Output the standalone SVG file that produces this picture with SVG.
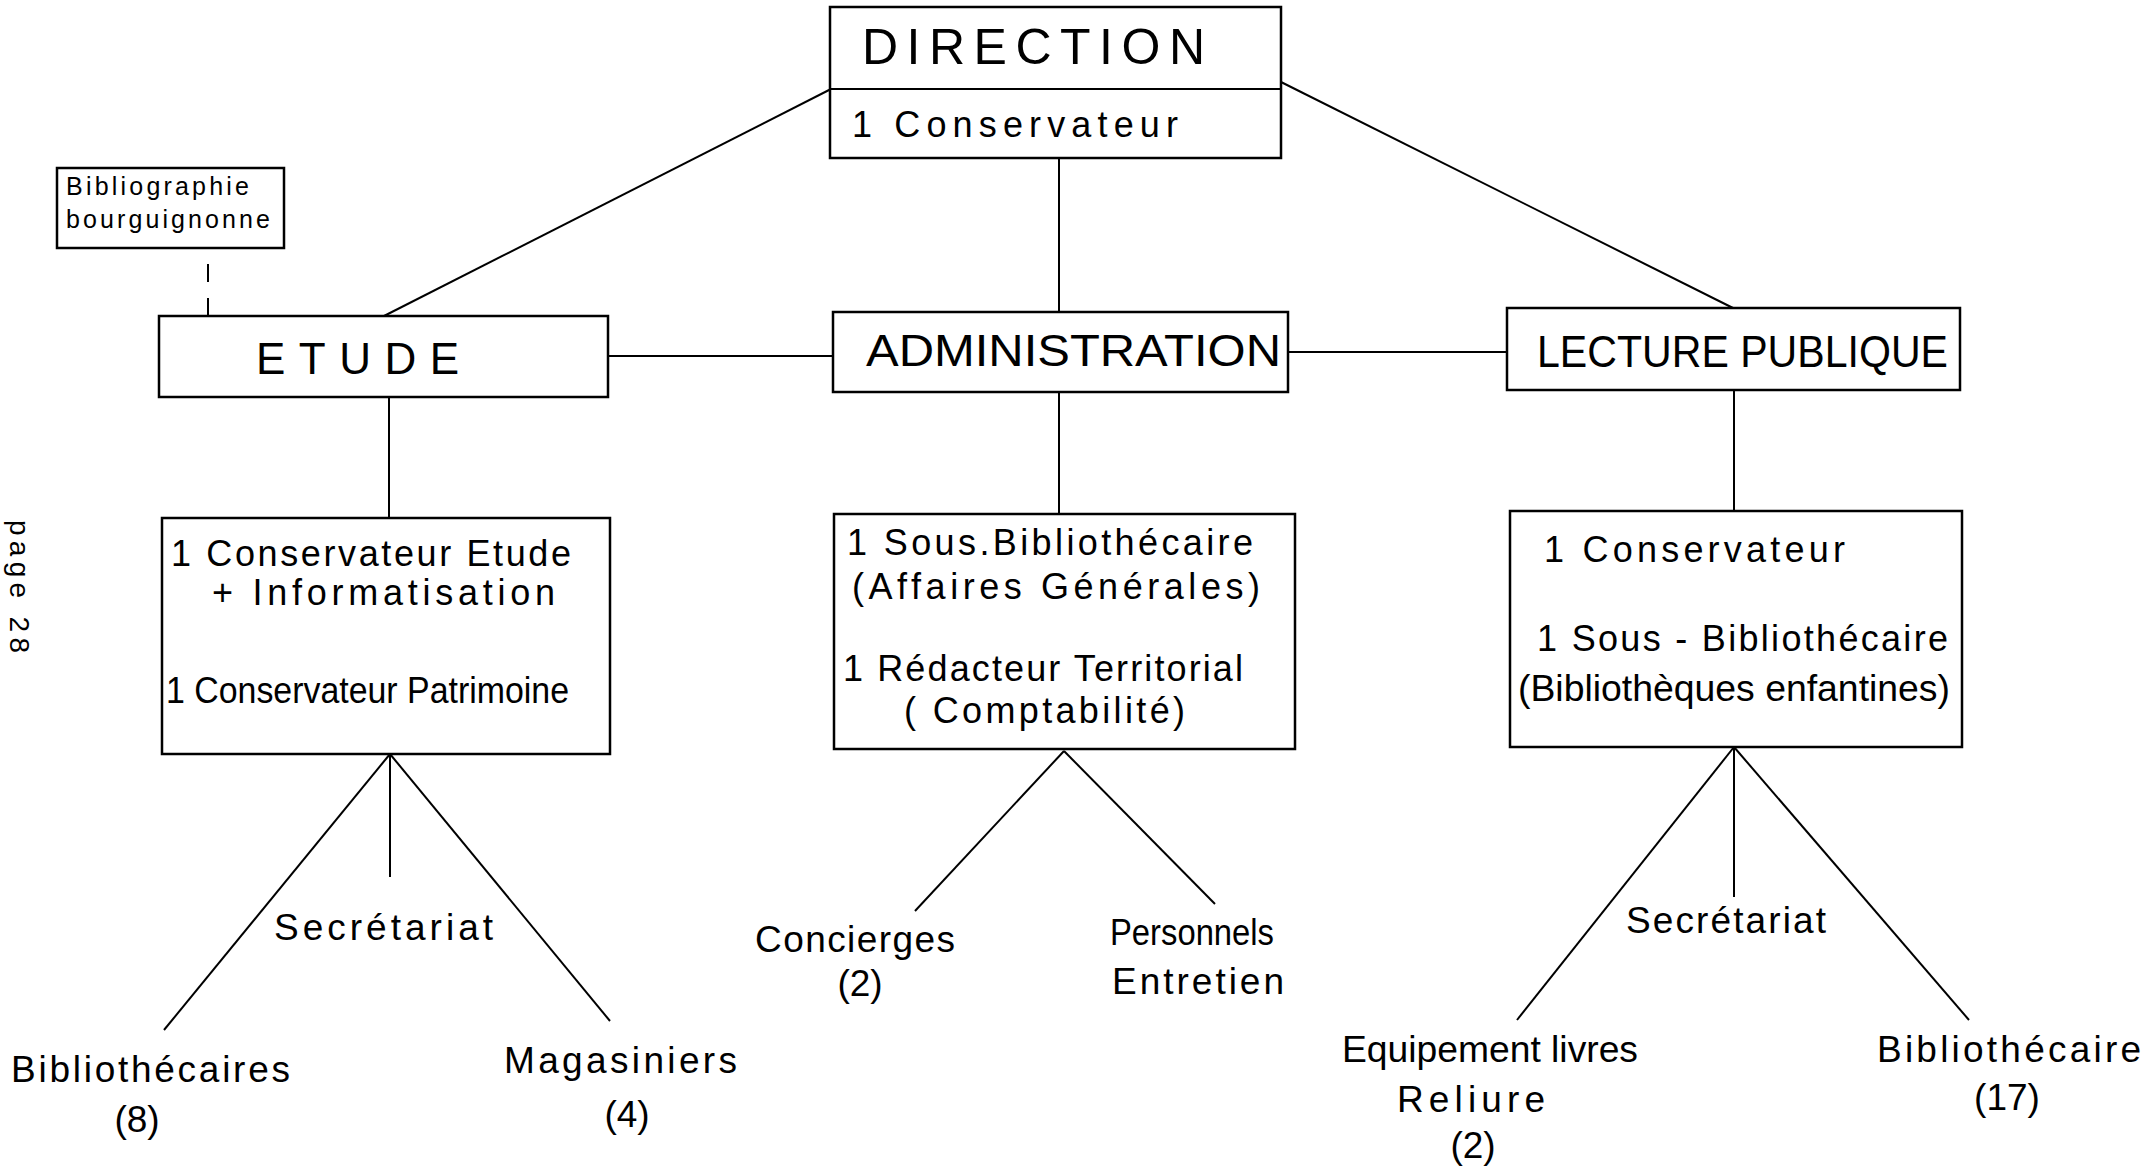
<svg xmlns="http://www.w3.org/2000/svg" width="2148" height="1172" viewBox="0 0 2148 1172">
<style>
.box{fill:#fff;stroke:#000;stroke-width:2.5}
.ln{stroke:#000;stroke-width:2;fill:none}
text{font-family:"Liberation Sans",Arial,sans-serif;fill:#000}
.h{font-size:44px}
.t{font-size:36px}
.s{font-size:25px}
.l{font-size:37px}
.c{text-anchor:middle}
</style>
<rect width="2148" height="1172" fill="#fff"/>
<g id="connectors">
<line class="ln" x1="831" y1="89" x2="384" y2="316"/>
<line class="ln" x1="1281" y1="82" x2="1733" y2="308"/>
<line class="ln" x1="1059" y1="158" x2="1059" y2="312"/>
<line class="ln" x1="208" y1="264" x2="208" y2="316" stroke-dasharray="18,16"/>
<line class="ln" x1="608" y1="356" x2="833" y2="356"/>
<line class="ln" x1="1288" y1="352" x2="1507" y2="352"/>
<line class="ln" x1="389" y1="397" x2="389" y2="518"/>
<line class="ln" x1="1059" y1="392" x2="1059" y2="514"/>
<line class="ln" x1="1734" y1="390" x2="1734" y2="511"/>
<line class="ln" x1="390" y1="754" x2="164" y2="1030"/>
<line class="ln" x1="390" y1="754" x2="390" y2="877"/>
<line class="ln" x1="390" y1="754" x2="610" y2="1021"/>
<line class="ln" x1="1064" y1="751" x2="915" y2="911"/>
<line class="ln" x1="1064" y1="751" x2="1215" y2="904"/>
<line class="ln" x1="1734" y1="747" x2="1517" y2="1020"/>
<line class="ln" x1="1734" y1="747" x2="1734" y2="897"/>
<line class="ln" x1="1734" y1="747" x2="1969" y2="1020"/>
</g>
<g id="direction">
<rect class="box" x="830" y="7" width="451" height="151"/>
<line class="ln" x1="830" y1="89" x2="1281" y2="89" stroke-width="2.5"/>
<text x="862" y="64" font-size="50" textLength="343">DIRECTION</text>
<text class="t" x="852" y="137" font-size="38" textLength="326">1  Conservateur</text>
</g>
<g id="bibliographie">
<rect class="box" x="57" y="168" width="227" height="80" stroke-width="2"/>
<text class="s" x="66" y="195" textLength="183">Bibliographie</text>
<text class="s" x="66" y="228" textLength="204">bourguignonne</text>
</g>
<g id="etude">
<rect class="box" x="159" y="316" width="449" height="81"/>
<text class="h" x="256" y="374" textLength="203">ETUDE</text>
</g>
<g id="administration">
<rect class="box" x="833" y="312" width="455" height="80"/>
<text class="h" x="866" y="366" textLength="415" lengthAdjust="spacingAndGlyphs">ADMINISTRATION</text>
</g>
<g id="lecture">
<rect class="box" x="1507" y="308" width="453" height="82"/>
<text class="h" x="1537" y="367" textLength="411" lengthAdjust="spacingAndGlyphs">LECTURE PUBLIQUE</text>
</g>
<g id="etude-detail">
<rect class="box" x="162" y="518" width="448" height="236"/>
<text class="t" x="171" y="566" textLength="400">1 Conservateur  Etude</text>
<text class="t" x="212" y="605" textLength="343">+ Informatisation</text>
<text class="t" x="166" y="703" textLength="403" lengthAdjust="spacingAndGlyphs">1 Conservateur Patrimoine</text>
</g>
<g id="admin-detail">
<rect class="box" x="834" y="514" width="461" height="235"/>
<text class="t" x="847" y="555" textLength="406">1 Sous.Bibliothécaire</text>
<text class="t" x="852" y="599" textLength="408">(Affaires    Générales)</text>
<text class="t" x="843" y="681" textLength="400">1 Rédacteur Territorial</text>
<text class="t" x="904" y="723" textLength="281">( Comptabilité)</text>
</g>
<g id="lecture-detail">
<rect class="box" x="1510" y="511" width="452" height="236"/>
<text class="t" x="1544" y="562" textLength="301">1  Conservateur</text>
<text class="t" x="1537" y="651" textLength="411">1 Sous - Bibliothécaire</text>
<text class="t" x="1518" y="701" textLength="432" lengthAdjust="spacingAndGlyphs">(Bibliothèques  enfantines)</text>
</g>
<g id="etude-secretariat"><text class="l" x="274" y="940" textLength="219">Secrétariat</text></g>
<g id="bibliothecaires"><text class="l" x="11" y="1082" textLength="279">Bibliothécaires</text><text class="l c" x="137" y="1132">(8)</text></g>
<g id="magasiniers"><text class="l" x="504" y="1073" textLength="233">Magasiniers</text><text class="l c" x="627" y="1127">(4)</text></g>
<g id="concierges"><text class="l" x="755" y="952" textLength="200">Concierges</text><text class="l c" x="860" y="996">(2)</text></g>
<g id="personnels"><text class="l" x="1110" y="945" textLength="164" lengthAdjust="spacingAndGlyphs">Personnels</text><text class="l" x="1112" y="994" textLength="172">Entretien</text></g>
<g id="lecture-secretariat"><text class="l" x="1626" y="933" textLength="200">Secrétariat</text></g>
<g id="equipement"><text class="l" x="1342" y="1062" textLength="296" lengthAdjust="spacingAndGlyphs">Equipement livres</text><text class="l" x="1397" y="1112" textLength="148">Reliure</text><text class="l c" x="1473" y="1158">(2)</text></g>
<g id="bibliothecaire"><text class="l" x="1877" y="1062" textLength="264">Bibliothécaire</text><text class="l c" x="2007" y="1110">(17)</text></g>
<text x="10" y="520" font-family="'Liberation Mono',monospace" font-size="28" transform="rotate(90 10 520)" textLength="133">page 28</text>
</svg>
